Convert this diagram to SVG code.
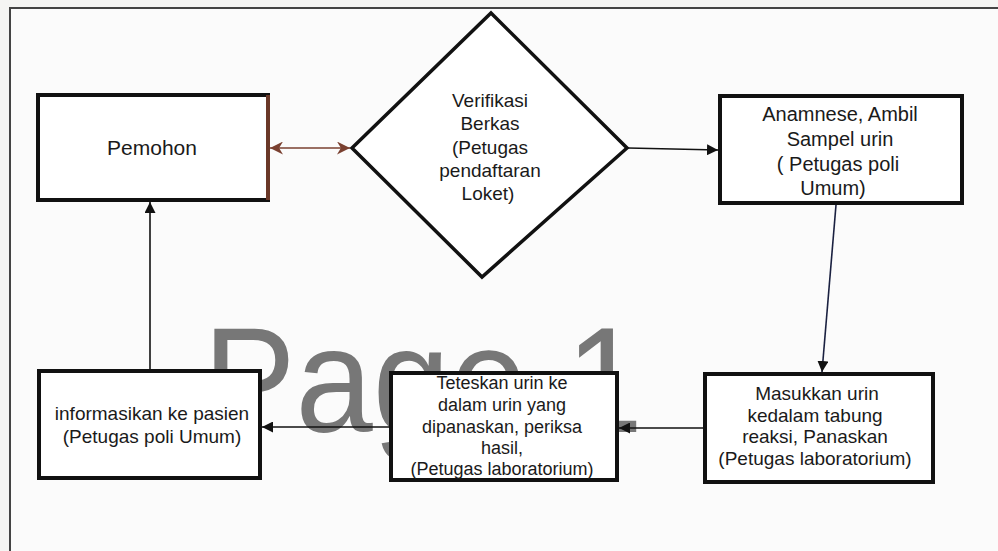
<svg xmlns="http://www.w3.org/2000/svg" width="998" height="551" viewBox="0 0 998 551">
<defs>
<style>
.box{fill:#fff;stroke:#111;stroke-width:4}
.t{font-family:"Liberation Sans",Arial,sans-serif;font-size:19px;fill:#1a1a1a;text-anchor:middle}
.s{font-size:18px}
.c{fill:none;stroke:#111;stroke-width:1.6}
</style>
<marker id="ah" viewBox="0 0 10 10" refX="10" refY="5" markerWidth="11" markerHeight="11" markerUnits="userSpaceOnUse" orient="auto-start-reverse">
<path d="M0,0 L10,5 L0,10 z" fill="#111"/>
</marker>
<marker id="ahb" viewBox="0 0 10 10" refX="10" refY="5" markerWidth="13" markerHeight="13" markerUnits="userSpaceOnUse" orient="auto-start-reverse">
<path d="M0,0 L10,5 L0,10 L3,5 z" fill="#7a4030"/>
</marker>
</defs>
<rect x="0" y="0" width="998" height="551" fill="#f5f5f3"/>
<rect x="10" y="8" width="988" height="543" fill="#fbfbfb"/>
<path d="M10,551 L10,8 L998,8" fill="none" stroke="#444" stroke-width="2"/>
<text x="203" y="432" font-family="Liberation Sans,Arial,sans-serif" font-size="150" fill="#777" textLength="440" lengthAdjust="spacingAndGlyphs">Page 1</text>
<g id="connectors">
<line class="c" x1="270" y1="148" x2="350" y2="148" style="stroke:#7a4030" marker-start="url(#ahb)" marker-end="url(#ahb)"/>
<line class="c" x1="628" y1="148" x2="718" y2="150" marker-end="url(#ah)"/>
<line class="c" x1="836" y1="205" x2="822" y2="372" style="stroke:#1a2040" marker-end="url(#ah)"/>
<line class="c" x1="705" y1="428" x2="619" y2="428" marker-end="url(#ah)"/>
<line class="c" x1="391" y1="427" x2="262" y2="427" marker-end="url(#ah)"/>
<line class="c" x1="150" y1="371" x2="150" y2="202" marker-end="url(#ah)"/>
</g>
<g id="pemohon">
<rect class="box" x="38" y="95" width="230" height="105"/>
<line x1="268" y1="95" x2="268" y2="200" stroke="#6a3828" stroke-width="4"/>
<text class="t" x="152" y="155" style="font-size:21px">Pemohon</text>
</g>
<g id="verifikasi">
<polygon points="491,13 627,148 482,277 352,148" fill="#fff" stroke="#111" stroke-width="3.5"/>
<text class="t" x="490" y="107">Verifikasi</text>
<text class="t" x="490" y="130">Berkas</text>
<text class="t" x="490" y="154">(Petugas</text>
<text class="t" x="490" y="177">pendaftaran</text>
<text class="t" x="488" y="200">Loket)</text>
</g>
<g id="anamnese">
<rect class="box" x="720" y="96" width="242" height="107"/>
<text class="t" x="840" y="121" style="font-size:20px">Anamnese, Ambil</text>
<text class="t" x="840" y="146" style="font-size:20px">Sampel urin</text>
<text class="t" x="838" y="171" style="font-size:20px">( Petugas poli</text>
<text class="t" x="833" y="195" style="font-size:20px">Umum)</text>
</g>
<g id="masukkan">
<rect class="box" x="705" y="374" width="228" height="108"/>
<text class="t" x="817" y="400">Masukkan urin</text>
<text class="t" x="815" y="422">kedalam tabung</text>
<text class="t" x="815" y="443">reaksi, Panaskan</text>
<text class="t" x="815" y="465">(Petugas laboratorium)</text>
</g>
<g id="teteskan">
<rect class="box" x="391" y="373" width="226" height="107"/>
<text class="t s" x="502" y="389">Teteskan urin ke</text>
<text class="t s" x="502" y="411">dalam urin yang</text>
<text class="t s" x="502" y="433">dipanaskan, periksa</text>
<text class="t s" x="502" y="454">hasil,</text>
<text class="t s" x="502" y="475">(Petugas laboratorium)</text>
</g>
<g id="informasikan">
<rect class="box" x="39" y="371" width="221" height="107"/>
<text class="t" x="152" y="420">informasikan ke pasien</text>
<text class="t" x="152" y="443">(Petugas poli Umum)</text>
</g>
</svg>
